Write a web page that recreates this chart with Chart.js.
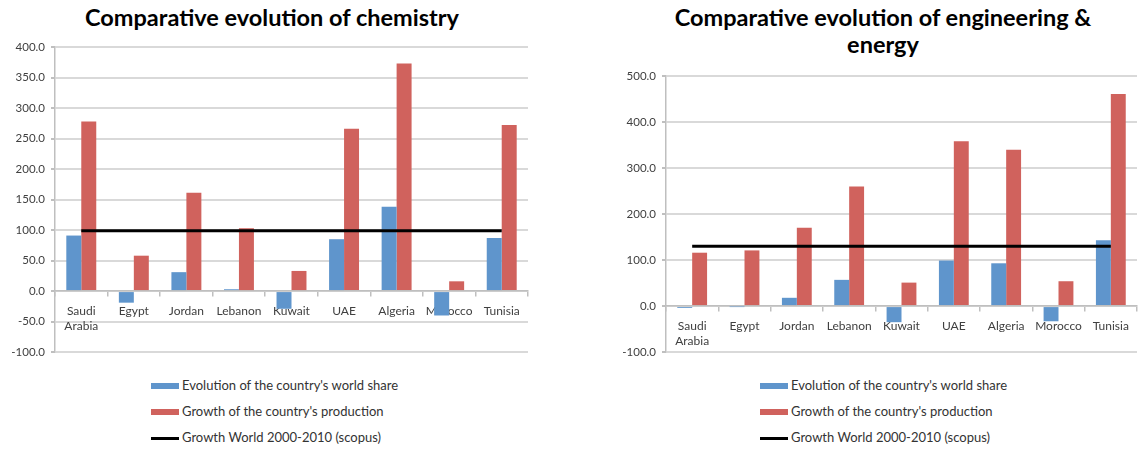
<!DOCTYPE html>
<html>
<head>
<meta charset="utf-8">
<script src="https://cdn.jsdelivr.net/npm/chart.js@4/dist/chart.umd.min.js"></script>
<style>
  html, body { margin: 0; padding: 0; background: #fff; }
  body { width: 1141px; height: 449px; position: relative; overflow: hidden; font-family: Lato, "Open Sans", sans-serif; }
  .title { position: absolute; font-family: Lato, sans-serif; font-weight: bold; font-size: 23.5px; line-height: 27px; color: #000; text-align: center; white-space: nowrap; }
  .box { position: absolute; }
  .legend { position: absolute; font-size: 13px; color: #333; }
  .legend .row { position: absolute; left: 0; height: 14px; white-space: nowrap; }
  .legend .sw { position: absolute; left: 0; width: 28px; }
  .legend .tx { position: absolute; left: 31px; top: -1px; line-height: 15px; }
</style>
</head>
<body>
<div class="title" id="t1" style="left:42px; top:4px; width:460px;">Comparative evolution of chemistry</div>
<div class="title" id="t2" style="left:633px; top:4px; width:500px;">Comparative evolution of engineering &amp;<br>energy</div>
<div class="box" style="left:0; top:0; width:545px; height:365px;"><canvas id="c1"></canvas></div>
<div class="box" style="left:600px; top:0; width:541px; height:365px;"><canvas id="c2"></canvas></div>
<div class="legend" id="lg1" style="left:151px; top:379px;"></div>
<div class="legend" id="lg2" style="left:760px; top:379px;"></div>
<script>
// Categories shared by both panels
const categories = [['Saudi', 'Arabia'], 'Egypt', 'Jordan', 'Lebanon', 'Kuwait', 'UAE', 'Algeria', 'Morocco', 'Tunisia'];

// Series names
const seriesNames = [
  "Evolution of the country's world share",
  "Growth of the country's production",
  'Growth World 2000-2010 (scopus)'
];

// Chemistry (%)
const chemShare  = [91, -19, 31, 3, -29, 85, 138, -40, 87];
const chemGrowth = [278, 58, 161, 103, 33, 266, 373, 16, 272];
const chemWorld  = [99, 99, 99, 99, 99, 99, 99, 99, 99];

// Engineering & energy (%)
const engShare  = [-4, -1, 18, 57, -35, 99, 93, -33, 143];
const engGrowth = [116, 121, 170, 260, 51, 358, 340, 54, 461];
const engWorld  = [130, 130, 130, 130, 130, 130, 130, 130, 130];

// Y axis ranges
const chemTicks = { min: -100, max: 400, step: 50 };
const engTicks  = { min: -100, max: 500, step: 100 };

const BLUE = '#5f95cc';
const RED = '#d0625d';
const GRID = '#d9d9d9';
const AXIS = '#bfbfbf';
const TEXT = '#404040';

function makeChart(canvasId, share, growth, world, ticks, axisWidth, pad) {
  return new Chart(document.getElementById(canvasId), {
    type: 'bar',
    data: {
      labels: categories,
      datasets: [
        { type: 'line', label: seriesNames[2], data: world, borderColor: '#000', backgroundColor: '#000',
          borderWidth: 3, pointRadius: 0, order: 0 },
        { label: seriesNames[0], data: share, backgroundColor: BLUE, order: 1 },
        { label: seriesNames[1], data: growth, backgroundColor: RED, order: 1 }
      ]
    },
    options: {
      responsive: true,
      maintainAspectRatio: false,
      animation: false,
      events: [],
      layout: { padding: pad },
      datasets: { bar: { barPercentage: 1, categoryPercentage: 0.57 } },
      plugins: { legend: { display: false }, title: { display: false }, tooltip: { enabled: false } },
      scales: {
        x: {
          position: { y: 0 },
          z: 1,
          offset: true,
          grid: { offset: true, drawOnChartArea: false, drawTicks: true, tickLength: 5, color: AXIS, lineWidth: 1.5 },
          border: { display: true, color: AXIS, width: 1.5 },
          ticks: { color: TEXT, font: { family: 'Lato', size: 12, lineHeight: 1.3 }, padding: 7, maxRotation: 0, autoSkip: false }
        },
        y: {
          min: ticks.min, max: ticks.max,
          afterFit: (s) => { s.width = axisWidth; },
          grid: { color: GRID, lineWidth: 2, drawTicks: true, tickLength: 4, tickColor: AXIS },
          border: { display: true, color: AXIS, width: 1.5 },
          ticks: { stepSize: ticks.step, color: TEXT, padding: 6, font: { family: 'Lato', size: 11.5 },
                   callback: (v) => Number(v).toFixed(1) }
        }
      }
    }
  });
}

function makeLegend(id, chart) {
  const el = document.getElementById(id);
  const order = [1, 2, 0];
  order.forEach((di, i) => {
    const ds = chart.data.datasets[di];
    const row = document.createElement('div');
    row.className = 'row';
    row.style.top = (i * 26) + 'px';
    const sw = document.createElement('div');
    sw.className = 'sw';
    if (ds.type === 'line') { sw.style.height = '3px'; sw.style.top = '6px'; sw.style.background = ds.borderColor; }
    else { sw.style.height = '6px'; sw.style.top = '4px'; sw.style.background = ds.backgroundColor; }
    const tx = document.createElement('div');
    tx.className = 'tx';
    tx.textContent = ds.label;
    row.appendChild(sw); row.appendChild(tx);
    el.appendChild(row);
  });
}

const c1 = makeChart('c1', chemShare, chemGrowth, chemWorld, chemTicks, 55, { top: 47, left: 0, right: 17, bottom: 5 });
const c2 = makeChart('c2', engShare, engGrowth, engWorld, engTicks, 66, { top: 76, left: 0, right: 4, bottom: 5 });
makeLegend('lg1', c1);
makeLegend('lg2', c2);
</script>
</body>
</html>
